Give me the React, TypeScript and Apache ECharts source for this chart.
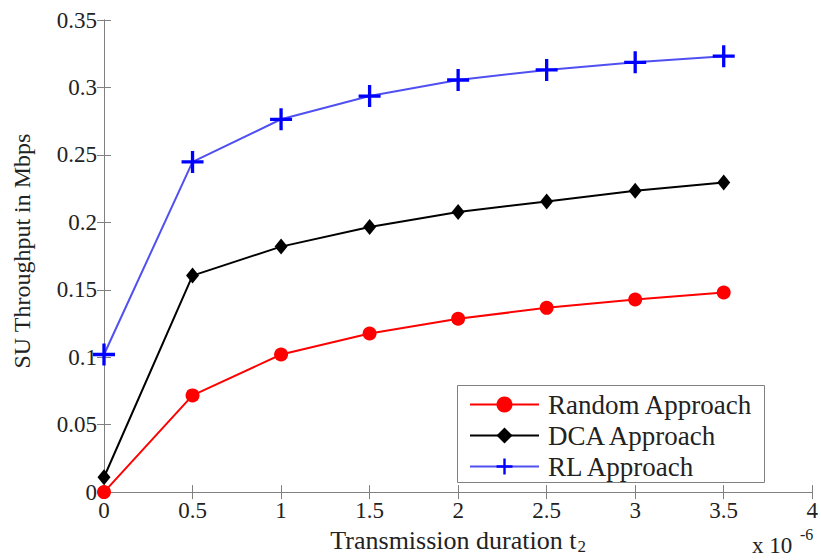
import React, { useEffect, useRef } from "react";
import * as echarts from "echarts";

const xValues = [0, 0.5, 1, 1.5, 2, 2.5, 3, 3.5];
const randomValues = [0, 0.0717, 0.102, 0.1176, 0.1285, 0.1366, 0.1428, 0.148];
const dcaValues = [0.011, 0.1605, 0.182, 0.1965, 0.2076, 0.2155, 0.2234, 0.2295];
const rlValues = [0.102, 0.2448, 0.2764, 0.2936, 0.3055, 0.313, 0.3186, 0.3232];
const seriesNames = ["Random Approach", "DCA Approach", "RL Approach"];

const FONT = "'Liberation Serif', 'Times New Roman', serif";
const AXIS = "#808080";
const TXT = "#222";

const PLUS = "path://M8.5,0h3v8.5h8.5v3h-8.5v8.5h-3v-8.5h-8.5v-3h8.5z";

function pairs(vals: number[]) {
  return xValues.map((x, i) => [x, vals[i]]);
}

export default function App() {
  const ref = useRef<HTMLDivElement>(null);
  useEffect(() => {
    const chart = echarts.init(ref.current!, undefined, { renderer: "svg" });
    const fmt = (v: number) => String(+v.toFixed(2));
    const tickIn = { show: true, inside: true, length: 7, lineStyle: { color: AXIS } };
    chart.setOption({
      animation: false,
      backgroundColor: "#fff",
      grid: { left: 104, right: 6, top: 20, bottom: 67 },
      xAxis: [
        {
          type: "value",
          min: 0,
          max: 4,
          interval: 0.5,
          axisLine: { show: true, lineStyle: { color: AXIS } },
          axisTick: tickIn,
          splitLine: { show: false },
          axisLabel: { color: TXT, fontFamily: FONT, fontSize: 23, margin: 7, formatter: fmt },
          name: "{a|Transmission duration t}{s|2}",
          nameLocation: "middle",
          nameGap: 31,
          nameTextStyle: {
            rich: {
              a: { fontFamily: FONT, fontSize: 26, color: TXT },
              s: { fontFamily: FONT, fontSize: 17, color: TXT, verticalAlign: "bottom", padding: [13, 0, 0, 1] },
            },
          },
        },
        {
          type: "value",
          position: "top",
          min: 0,
          max: 4,
          interval: 0.5,
          axisLine: { show: true, lineStyle: { color: AXIS } },
          axisTick: tickIn,
          axisLabel: { show: false },
          splitLine: { show: false },
        },
      ],
      yAxis: [
        {
          type: "value",
          min: 0,
          max: 0.35,
          interval: 0.05,
          axisLine: { show: true, lineStyle: { color: AXIS } },
          axisTick: tickIn,
          splitLine: { show: false },
          axisLabel: { color: TXT, fontFamily: FONT, fontSize: 23, margin: 7, formatter: fmt },
          name: "SU Throughput in Mbps",
          nameLocation: "middle",
          nameGap: 70,
          nameTextStyle: { fontFamily: FONT, fontSize: 24, color: TXT, padding: [0, 0, 0, 10] },
        },
        {
          type: "value",
          position: "right",
          min: 0,
          max: 0.35,
          interval: 0.05,
          axisLine: { show: true, lineStyle: { color: AXIS } },
          axisTick: tickIn,
          axisLabel: { show: false },
          splitLine: { show: false },
        },
      ],
      legend: {
        orient: "vertical",
        left: 469,
        top: 391,
        padding: 0,
        itemGap: 4,
        itemWidth: 69,
        itemHeight: 20,
        data: seriesNames,
        textStyle: { fontFamily: FONT, fontSize: 27, color: TXT, padding: [0, 0, 0, 4] },
      },
      graphic: [
        {
          type: "rect",
          shape: { x: 457.5, y: 385.5, width: 307, height: 97 },
          style: { fill: "#fff", stroke: AXIS, lineWidth: 1 },
          z: -1,
          zlevel: 0,
        },
        {
          type: "text",
          left: 752,
          top: 534,
          style: { text: "x 10", font: `23px ${FONT}`, fill: TXT },
        },
        {
          type: "text",
          left: 800,
          top: 526,
          style: { text: "-6", font: `16px ${FONT}`, fill: TXT },
        },
      ],
      series: [
        {
          name: seriesNames[0],
          type: "line",
          data: pairs(randomValues),
          symbol: "circle",
          symbolSize: 14,
          itemStyle: { color: "#ff0000" },
          lineStyle: { color: "#ff0000", width: 2 },
          z: 3,
        },
        {
          name: seriesNames[1],
          type: "line",
          data: pairs(dcaValues),
          symbol: "diamond",
          symbolSize: [13, 16],
          itemStyle: { color: "#000000" },
          lineStyle: { color: "#000000", width: 2 },
          z: 4,
        },
        {
          name: seriesNames[2],
          type: "line",
          data: pairs(rlValues),
          symbol: PLUS,
          symbolSize: 22,
          itemStyle: { color: "#0000ff" },
          lineStyle: { color: "#5050f2", width: 2 },
          z: 5,
        },
      ],
    });
    return () => chart.dispose();
  }, []);
  return (
    <div
      ref={ref}
      style={{ position: "fixed", left: 0, top: 0, width: 821, height: 560, background: "#fff" }}
    />
  );
}
